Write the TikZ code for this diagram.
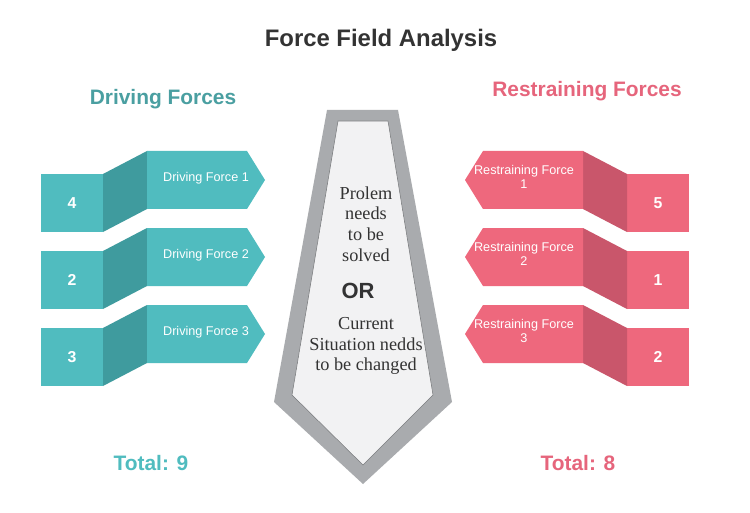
\documentclass[tikz,border=0pt]{standalone}
\usepackage{fontspec}
\setmainfont{Liberation Serif}
\setsansfont{Liberation Sans}
\usetikzlibrary{positioning}
\definecolor{drive}{HTML}{50BCBF}
\definecolor{drivedark}{HTML}{3F9B9E}
\definecolor{drivetext}{HTML}{4A9FA1}
\definecolor{restrain}{HTML}{EE687D}
\definecolor{restraindark}{HTML}{C9566B}
\definecolor{restraintext}{HTML}{E6657C}
\definecolor{tiegray}{HTML}{A9ABAE}
\definecolor{tiefill}{HTML}{F2F2F3}
\definecolor{inkgray}{HTML}{333333}
\tikzset{
  heading/.style={font=\sffamily\bfseries\fontsize{11.9}{14}\selectfont},
  forcelabel/.style={text=white, font=\sffamily\fontsize{7.2}{8.2}\selectfont, align=center, inner sep=0pt},
  score/.style={text=white, font=\sffamily\bfseries\fontsize{9}{10}\selectfont},
  issue/.style={text=inkgray, font=\rmfamily\fontsize{10.4}{11.8}\selectfont, align=center, inner sep=0pt}
}

\begin{document}
\begin{tikzpicture}[x=0.02cm, y=-0.02cm]
		\useasboundingbox (0,0) rectangle (750,513);
		\fill[white] (0,0) rectangle (750,513);
		
		% Titel
		\node[heading, text=inkgray, font=\sffamily\bfseries\fontsize{13.6}{16}\selectfont] (title) at (381,40) {Force Field Analysis};
		\node[heading, text=drivetext] (drivehead) at (163,99) {Driving Forces};
		\node[heading, text=restraintext] (restrainhead) at (587,91) {Restraining Forces};
		
		% treibende Kraefte
		\foreach \n/\v in {1/4,2/2,3/3} {
			\pgfmathsetmacro\t{151+77*(\n-1)}
			\fill[drive] (41,\t+23) rectangle (103,\t+81);
			\fill[drivedark] (103,\t+23) -- (147,\t) -- (147,\t+58) -- (103,\t+81) -- cycle;
			\fill[drive] (147,\t) -- (247,\t) -- (265,\t+29) -- (247,\t+58) -- (147,\t+58) -- cycle;
			\node[forcelabel] (drv\n) at (206,\t+27) {Driving Force \n};
			\node[score] (drvval\n) at (72,\t+52) {\v};
		}
		
		% hemmende Kraefte
		\foreach \n/\v in {1/5,2/1,3/2} {
			\pgfmathsetmacro\t{151+77*(\n-1)}
			\fill[restrain] (627,\t+23) rectangle (689,\t+81);
			\fill[restraindark] (627,\t+23) -- (583,\t) -- (583,\t+58) -- (627,\t+81) -- cycle;
			\fill[restrain] (583,\t) -- (483,\t) -- (465,\t+29) -- (483,\t+58) -- (583,\t+58) -- cycle;
			\node[forcelabel] (rst\n) at (524,\t+26) {Restraining Force\\\n};
			\node[score] (rstval\n) at (658,\t+52) {\v};
		}
		
		% Krawatte in der Mitte
		\fill[tiegray] (327,110) -- (398,110) -- (452,402) -- (363,484) -- (274,402) -- cycle;
		\filldraw[fill=tiefill, draw=tiegray!70!black, line width=0.3pt] (338,121) -- (388,121) -- (433,395) -- (363,465) -- (292,395) -- cycle;
		
		\node[issue] (problem) at (366,224) {Prolem\\needs\\to be\\solved};
		\node[text=inkgray, font=\sffamily\bfseries\fontsize{12.5}{14}\selectfont] (or) at (358,291) {OR};
		\node[issue] (change) at (366,346) {Current\\Situation nedds\\to be changed};
		
		% Summen
		\node[heading, text=drive] (drivetotal) at (151,463) {Total: 9};
		\node[heading, text=restraintext] (restraintotal) at (578,463) {Total: 8};
	\end{tikzpicture}
\end{document}
